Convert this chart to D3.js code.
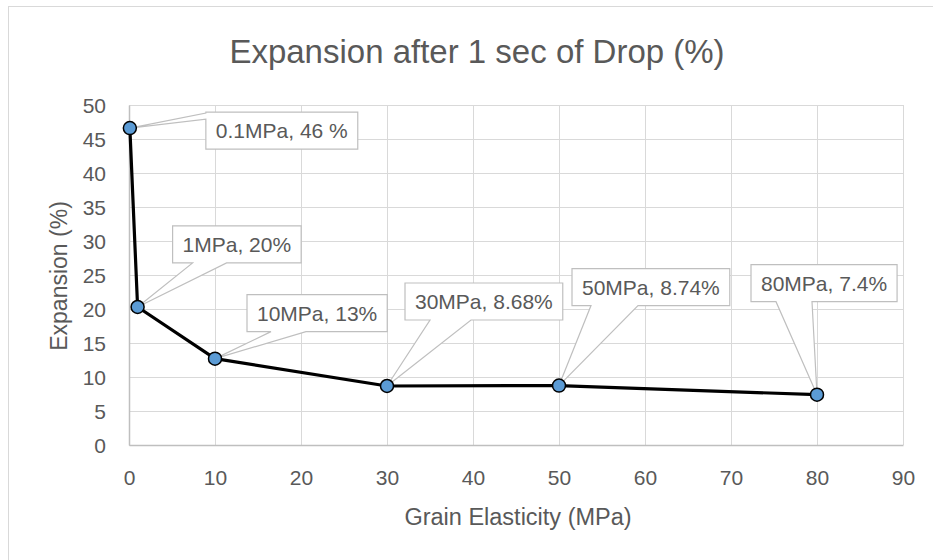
<!DOCTYPE html>
<html lang="en">
<head>
    <meta charset="UTF-8">
    <title>Expansion after 1 sec of Drop (%)</title>
    <script src="https://d3js.org/d3.v7.min.js"></script>
    <style>
        body {
            margin: 0;
            padding: 0;
            background-color: #ffffff;
            font-family: "Liberation Sans", Arial, sans-serif;
        }
        svg {
            display: block;
        }
        .grid line {
            stroke: #d9d9d9;
            stroke-width: 1;
        }
        .grid .domain {
            display: none;
        }
        .tick text {
            fill: #595959;
            font-size: 21px;
        }
    </style>
</head>
<body>
    <svg width="933" height="560"></svg>
    <script>
        // data
        const elasticity = [0.1, 1, 10, 30, 50, 80];
        const expansion = [46.6, 20.3, 12.7, 8.68, 8.74, 7.4];
        const pointLabels = ["0.1MPa, 46 %", "1MPa, 20%", "10MPa, 13%", "30MPa, 8.68%", "50MPa, 8.74%", "80MPa, 7.4%"];
        const xTicks = [0, 10, 20, 30, 40, 50, 60, 70, 80, 90];
        const yTicks = [0, 5, 10, 15, 20, 25, 30, 35, 40, 45, 50];

        // callout placement (box top-left relative to point, wedge base along the box)
        const callouts = [
            { dx: 76, dy: -16, side: "left", b1: 1, b2: 7 },
            { dx: 35, dy: -81, side: "bottom", b1: 20, b2: 54 },
            { dx: 32, dy: -64, side: "bottom", b1: 24, b2: 59 },
            { dx: 18, dy: -103, side: "bottom", b1: 25, b2: 66 },
            { dx: 13, dy: -117, side: "bottom", b1: 19, b2: 66 },
            { dx: -66, dy: -130, side: "bottom", b1: 25, b2: 61 }
        ];

        const margin = { left: 129, right: 30, top: 105, bottom: 115 };
        const width = 933, height = 560;
        const plotW = width - margin.left - margin.right;
        const plotH = height - margin.top - margin.bottom;

        const svg = d3.select("svg");

        // outer chart frame (right/bottom edges fall outside the picture)
        svg.append("rect")
            .attr("x", 8.5).attr("y", 6.5)
            .attr("width", 940).attr("height", 570)
            .attr("fill", "none")
            .attr("stroke", "#d9d9d9");

        const x = d3.scaleLinear().domain([0, 90]).range([0, plotW]);
        const y = d3.scaleLinear().domain([0, 50]).range([plotH, 0]);

        const g = svg.append("g").attr("transform", `translate(${margin.left},${margin.top})`);

        // gridlines
        g.append("g").attr("class", "grid")
            .call(d3.axisLeft(y).tickValues(yTicks).tickSize(-plotW).tickFormat(""));
        g.append("g").attr("class", "grid")
            .call(d3.axisBottom(x).tickValues(xTicks).tickSize(plotH).tickFormat(""));

        // axes
        const xAxis = g.append("g")
            .attr("transform", `translate(0,${plotH})`)
            .call(d3.axisBottom(x).tickValues(xTicks).tickSize(0).tickPadding(25));
        xAxis.select(".domain").attr("stroke", "#bfbfbf").attr("stroke-width", 1.5);

        const yAxis = g.append("g")
            .call(d3.axisLeft(y).tickValues(yTicks).tickSize(0).tickPadding(23));
        yAxis.select(".domain").attr("stroke", "#bfbfbf").attr("stroke-width", 1.5);
        yAxis.selectAll(".tick text").attr("dy", "0.36em");

        // titles
        svg.append("text")
            .attr("x", 477).attr("y", 63)
            .attr("text-anchor", "middle")
            .attr("fill", "#595959")
            .attr("font-size", 33)
            .text("Expansion after 1 sec of Drop (%)");

        svg.append("text")
            .attr("x", 518).attr("y", 525)
            .attr("text-anchor", "middle")
            .attr("fill", "#595959")
            .attr("font-size", 23.5)
            .text("Grain Elasticity (MPa)");

        svg.append("text")
            .attr("transform", "translate(67,276) rotate(-90)")
            .attr("text-anchor", "middle")
            .attr("fill", "#595959")
            .attr("font-size", 23)
            .text("Expansion (%)");

        const points = elasticity.map((v, i) => ({ x: v, y: expansion[i], label: pointLabels[i], c: callouts[i] }));

        // series line
        g.append("path")
            .datum(points)
            .attr("fill", "none")
            .attr("stroke", "#000")
            .attr("stroke-width", 3.2)
            .attr("stroke-linejoin", "round")
            .attr("d", d3.line().x(d => x(d.x)).y(d => y(d.y)));

        // callouts
        const labelG = g.append("g");
        points.forEach(d => {
            const px = x(d.x), py = y(d.y);
            const t = labelG.append("text")
                .attr("fill", "#595959")
                .attr("font-size", 21)
                .attr("text-anchor", "middle")
                .text(d.label);
            const tw = t.node().getComputedTextLength();
            const bw = tw + 20, bh = 37;
            const bx = px + d.c.dx, by = py + d.c.dy;
            let path;
            if (d.c.side === "left") {
                path = `M${bx},${by}H${bx + bw}V${by + bh}H${bx}V${by + d.c.b2}L${px},${py}L${bx},${by + d.c.b1}Z`;
            } else {
                path = `M${bx},${by}H${bx + bw}V${by + bh}H${bx + d.c.b2}L${px},${py}L${bx + d.c.b1},${by + bh}H${bx}Z`;
            }
            labelG.insert("path", "text")
                .attr("d", path)
                .attr("fill", "#fff")
                .attr("stroke", "#bfbfbf")
                .attr("stroke-width", 1.2);
            t.attr("x", bx + bw / 2).attr("y", by + 26);
        });

        // markers
        g.append("g")
            .selectAll("circle")
            .data(points)
            .join("circle")
            .attr("cx", d => x(d.x))
            .attr("cy", d => y(d.y))
            .attr("r", 6.5)
            .attr("fill", "#5b9bd5")
            .attr("stroke", "#000")
            .attr("stroke-width", 1.5);
    </script>
</body>
</html>
